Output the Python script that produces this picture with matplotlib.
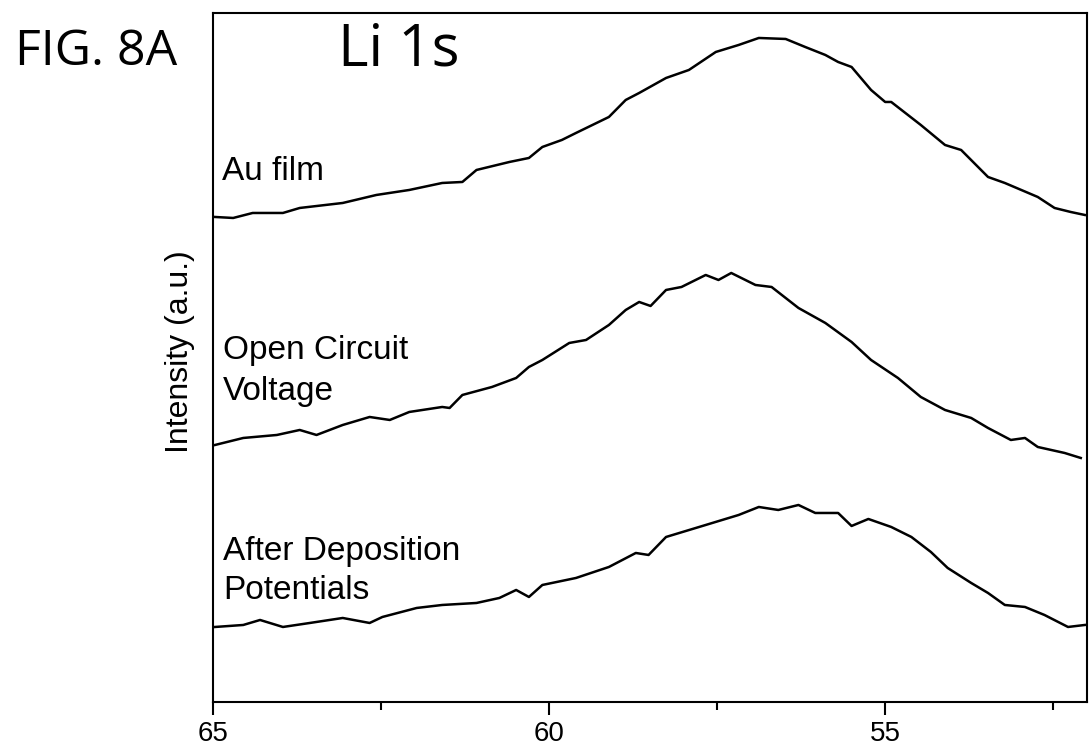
import matplotlib
matplotlib.use('Agg')
import matplotlib.pyplot as plt
from matplotlib.ticker import MultipleLocator

# binding energy (eV) and stacked intensity (a.u.)
be_au = [64.97, 64.70, 64.41, 63.96, 63.71, 63.07, 62.57, 62.08, 61.59, 61.29, 61.08,
         60.59, 60.30, 60.10, 59.81, 59.60, 59.11, 58.86, 58.66, 58.26, 57.92, 57.52,
         57.18, 56.88, 56.48, 56.19, 55.89, 55.70, 55.50, 55.21, 55.00, 54.91, 54.47,
         54.11, 53.87, 53.47, 53.22, 52.73, 52.48, 52.24, 52.03]
int_au = [48.5, 48.4, 48.9, 48.9, 49.4, 49.9, 50.7, 51.2, 51.9, 52.0, 53.2,
          54.0, 54.4, 55.5, 56.2, 56.9, 58.5, 60.2, 60.9, 62.4, 63.2, 65.0,
          65.7, 66.4, 66.3, 65.5, 64.7, 64.0, 63.5, 61.2, 60.0, 60.0, 57.7,
          55.7, 55.2, 52.5, 51.9, 50.5, 49.4, 49.0, 48.7]

be_ocv = [64.97, 64.55, 64.05, 63.71, 63.46, 63.07, 62.67, 62.37, 62.08, 61.59, 61.48,
          61.29, 60.85, 60.49, 60.30, 60.10, 59.70, 59.45, 59.11, 58.86, 58.66, 58.49,
          58.26, 58.03, 57.67, 57.48, 57.29, 56.93, 56.69, 56.29, 55.89, 55.50, 55.21,
          54.81, 54.47, 54.11, 53.72, 53.47, 53.13, 52.92, 52.73, 52.33, 52.09]
int_ocv = [25.7, 26.4, 26.7, 27.2, 26.7, 27.7, 28.5, 28.2, 29.0, 29.5, 29.4,
           30.7, 31.5, 32.4, 33.5, 34.2, 35.9, 36.2, 37.7, 39.2, 40.0, 39.6,
           41.2, 41.5, 42.7, 42.2, 42.9, 41.7, 41.5, 39.4, 37.9, 36.0, 34.2,
           32.4, 30.5, 29.2, 28.4, 27.4, 26.2, 26.4, 25.5, 24.9, 24.4]

be_dep = [64.97, 64.55, 64.30, 63.96, 63.56, 63.07, 62.67, 62.48, 61.97, 61.59, 61.08,
          60.74, 60.49, 60.30, 60.10, 59.60, 59.11, 58.71, 58.52, 58.26, 57.67, 57.18,
          56.88, 56.59, 56.29, 56.04, 55.70, 55.50, 55.25, 54.91, 54.61, 54.32, 54.07,
          53.72, 53.47, 53.22, 52.92, 52.63, 52.28, 52.03]
int_dep = [7.5, 7.7, 8.2, 7.5, 7.9, 8.4, 7.9, 8.5, 9.4, 9.7, 9.9,
           10.4, 11.2, 10.5, 11.7, 12.4, 13.5, 14.9, 14.7, 16.5, 17.7, 18.7,
           19.5, 19.2, 19.7, 18.9, 18.9, 17.6, 18.3, 17.5, 16.5, 15.0, 13.4,
           11.9, 10.9, 9.7, 9.5, 8.7, 7.5, 7.7]

x_ticks = [65, 60, 55]

fig = plt.figure(figsize=(10.89, 7.54), dpi=100)
ax = fig.add_axes([0.1956, 0.069, 0.8024, 0.9138])

for be, inten in [(be_au, int_au), (be_ocv, int_ocv), (be_dep, int_dep)]:
    ax.plot(be, inten, color='black', lw=1.8)

ax.set_xlim(65, 52)
ax.set_ylim(0, 68.9)
ax.set_xticks(x_ticks)
ax.xaxis.set_minor_locator(MultipleLocator(2.5))
ax.tick_params(axis='x', which='major', length=9, width=1.5, direction='out',
               labelsize=20, pad=5)
ax.tick_params(axis='x', which='minor', length=6, width=1.5, direction='out')
ax.set_yticks([])
for lab in ax.get_xticklabels():
    lab.set_family('Liberation Sans')
for sp in ax.spines.values():
    sp.set_linewidth(1.5)

ax.set_ylabel('Intensity (a.u.)', fontsize=23, family='Liberation Sans')
ax.yaxis.set_label_coords(-0.021, 0.508)

lbl = dict(fontsize=24, family='Liberation Sans', ha='left', va='center')
ax.text(64.87, 53.0, 'Au film', **lbl)
ax.text(64.85, 33.1, 'Open Circuit\nVoltage', linespacing=1.4, **lbl)
ax.text(64.85, 13.1, 'After Deposition\nPotentials', linespacing=1.3, **lbl)

fig.text(0.0138, 0.931, 'FIG. 8A', fontsize=36, family='Open Sans', va='center')
fig.text(0.310, 0.934, 'Li 1s', fontsize=42, family='Open Sans', va='center')

fig.savefig('out.png', dpi=100)
